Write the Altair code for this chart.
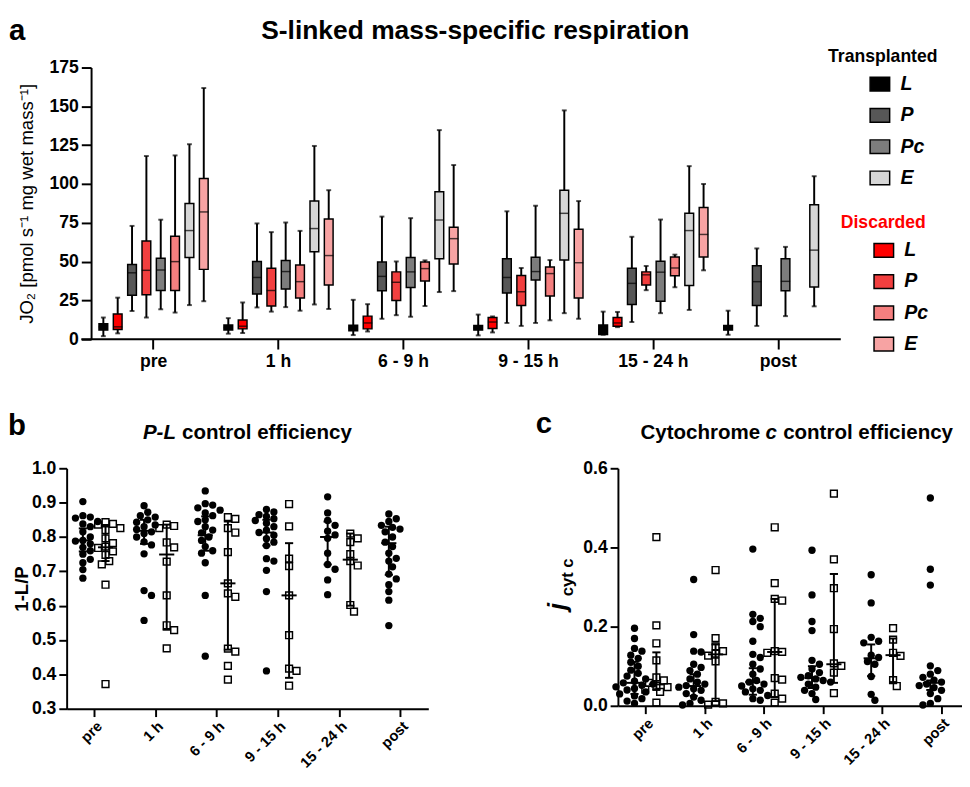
import altair as alt
import pandas as pd

FONT = "Liberation Sans"

groups = ["pre", "1 h", "6 - 9 h", "9 - 15 h", "15 - 24 h", "post"]
measures = ["L", "P", "Pc", "E"]
slot_keys = ["T_L", "D_L", "T_P", "D_P", "T_Pc", "D_Pc", "T_E", "D_E"]
T_colors = ["#000000", "#575757", "#7d7d7d", "#d6d6d6"]
D_colors = ["#ff0000", "#f23f3f", "#f57f7f", "#f7a3a3"]

# ---- panel a: box plots (order of slot_keys) ----
a_min = [
    [2.0, 3.8, 18.2, 14.0, 19.3, 17.2, 22.0, 24.5],
    [3.6, 4.0, 20.5, 17.8, 20.7, 18.4, 22.4, 19.5],
    [2.7, 5.0, 13.2, 15.5, 14.5, 21.4, 30.4, 31.0],
    [2.5, 4.4, 10.5, 8.6, 10.5, 12.2, 16.8, 13.2],
    [2.9, 7.8, 11.1, 31.6, 16.8, 33.5, 18.9, 44.4],
    [2.9, None, 8.6, None, 14.9, None, 21.2, None],
]
a_q1 = [
    [5.9, 6.3, 28.3, 28.7, 31.4, 31.4, 52.6, 45.0],
    [5.9, 6.7, 29.1, 21.4, 32.3, 26.6, 56.4, 35.0],
    [5.5, 6.7, 31.3, 25.0, 33.4, 37.5, 51.8, 48.5],
    [5.9, 6.9, 29.8, 21.8, 38.2, 27.9, 51.0, 26.6],
    [3.1, 8.4, 22.4, 35.0, 24.5, 40.9, 34.6, 53.0],
    [5.9, None, 21.8, None, 31.2, None, 33.7, None],
]
a_med = [
    [8.0, 8.0, 42.8, 44.4, 44.6, 50.0, 70.0, 82.0],
    [7.5, 8.4, 39.8, 31.4, 43.6, 37.1, 71.3, 53.9],
    [7.3, 10.5, 40.5, 36.7, 43.4, 45.5, 76.8, 64.8],
    [7.3, 11.1, 39.8, 30.6, 43.6, 42.3, 81.1, 49.3],
    [6.3, 10.5, 36.0, 41.5, 43.2, 45.9, 70.0, 67.5],
    [7.3, None, 37.1, None, 37.3, None, 57.4, None],
]
a_q3 = [
    [10.0, 16.3, 48.2, 63.3, 52.2, 66.4, 87.4, 103.5],
    [9.2, 12.4, 50.1, 45.7, 50.7, 47.8, 89.0, 77.4],
    [9.0, 14.9, 49.7, 43.4, 52.7, 49.7, 95.0, 72.2],
    [8.8, 14.0, 51.8, 41.1, 52.8, 46.5, 96.0, 70.8],
    [9.2, 14.0, 45.7, 43.4, 50.3, 53.0, 81.1, 84.9],
    [8.8, None, 47.4, None, 51.8, None, 86.6, None],
]
a_max = [
    [14.0, 26.8, 73.0, 118.0, 77.0, 118.4, 125.6, 161.8],
    [13.6, 23.7, 74.6, 69.0, 75.2, 69.8, 124.5, 96.0],
    [25.4, 22.6, 79.0, 50.1, 78.0, 50.8, 134.7, 112.2],
    [15.9, 14.7, 82.4, 45.9, 86.0, 51.0, 147.4, 89.0],
    [17.8, 17.6, 66.0, 47.2, 77.1, 54.5, 111.5, 100.0],
    [18.4, None, 58.5, None, 59.5, None, 105.0, None],
]

# ---- panel b: P-L control efficiency ----
b_T = [
    [0.903, 0.862, 0.858, 0.855, 0.845, 0.838, 0.83, 0.815, 0.80, 0.79, 0.788, 0.78, 0.77, 0.76, 0.75, 0.735, 0.725, 0.705, 0.68],
    [0.891, 0.872, 0.862, 0.858, 0.85, 0.843, 0.835, 0.83, 0.822, 0.815, 0.81, 0.80, 0.786, 0.777, 0.751, 0.644, 0.63, 0.557],
    [0.934, 0.897, 0.893, 0.885, 0.878, 0.87, 0.862, 0.85, 0.845, 0.83, 0.82, 0.812, 0.80, 0.79, 0.772, 0.76, 0.753, 0.725, 0.63, 0.453],
    [0.88, 0.873, 0.865, 0.86, 0.853, 0.848, 0.84, 0.83, 0.82, 0.813, 0.805, 0.795, 0.785, 0.775, 0.737, 0.73, 0.703, 0.641, 0.41],
    [0.917, 0.87, 0.848, 0.834, 0.817, 0.806, 0.796, 0.753, 0.72, 0.706, 0.675, 0.632],
    [0.867, 0.853, 0.845, 0.834, 0.828, 0.823, 0.815, 0.80, 0.785, 0.772, 0.753, 0.738, 0.73, 0.713, 0.692, 0.678, 0.661, 0.641, 0.616, 0.542],
]
b_D = [
    [0.843, 0.838, 0.836, 0.826, 0.82, 0.796, 0.782, 0.772, 0.768, 0.758, 0.748, 0.73, 0.72, 0.661, 0.372],
    [0.836, 0.832, 0.826, 0.784, 0.77, 0.728, 0.63, 0.543, 0.529, 0.476],
    [0.858, 0.853, 0.826, 0.813, 0.756, 0.665, 0.636, 0.626, 0.475, 0.466, 0.425, 0.385],
    [0.896, 0.831, 0.737, 0.715, 0.63, 0.514, 0.417, 0.41, 0.367],
    [0.81, 0.796, 0.785, 0.75, 0.73, 0.717, 0.602, 0.583],
    [],
]
b_T_med = [0.79, 0.818, 0.805, 0.813, 0.80, 0.782]
b_T_q1 = [0.758, 0.78, 0.76, 0.775, 0.72, 0.69]
b_T_q3 = [0.825, 0.85, 0.86, 0.85, 0.845, 0.83]
b_D_med = [0.77, 0.749, 0.665, 0.63, 0.734, None]
b_D_q1 = [0.73, 0.53, 0.472, 0.39, 0.60, None]
b_D_q3 = [0.835, 0.836, 0.845, 0.782, 0.81, None]

# ---- panel c: cytochrome c control efficiency ----
c_T = [
    [0.196, 0.17, 0.145, 0.138, 0.128, 0.12, 0.11, 0.1, 0.09, 0.082, 0.075, 0.068, 0.062, 0.058, 0.055, 0.052, 0.048, 0.044, 0.04, 0.035, 0.03, 0.025, 0.018, 0.012, 0.006],
    [0.319, 0.18, 0.138, 0.136, 0.105, 0.097, 0.089, 0.08, 0.068, 0.06, 0.055, 0.051, 0.047, 0.043, 0.039, 0.031, 0.022, 0.014, 0.006, 0.002],
    [0.396, 0.231, 0.221, 0.213, 0.2, 0.163, 0.13, 0.122, 0.105, 0.093, 0.08, 0.064, 0.06, 0.055, 0.05, 0.043, 0.039, 0.035, 0.026, 0.018, 0.014],
    [0.393, 0.28, 0.213, 0.19, 0.115, 0.105, 0.093, 0.084, 0.076, 0.072, 0.068, 0.064, 0.06, 0.055, 0.047, 0.039, 0.031, 0.016],
    [0.331, 0.26, 0.173, 0.163, 0.159, 0.128, 0.122, 0.112, 0.105, 0.074, 0.029, 0.014],
    [0.525, 0.345, 0.305, 0.101, 0.089, 0.08, 0.072, 0.065, 0.06, 0.055, 0.051, 0.046, 0.039, 0.031, 0.018, 0.006, 0.002],
]
c_D = [
    [0.426, 0.203, 0.158, 0.115, 0.072, 0.064, 0.058, 0.051, 0.047, 0.041, 0.035, 0.008],
    [0.343, 0.171, 0.15, 0.138, 0.132, 0.127, 0.112, 0.01, 0.006, 0.003],
    [0.451, 0.31, 0.27, 0.266, 0.138, 0.136, 0.134, 0.07, 0.066, 0.031, 0.018, 0.008],
    [0.536, 0.37, 0.297, 0.194, 0.107, 0.101, 0.084, 0.032],
    [0.196, 0.167, 0.134, 0.126, 0.065, 0.05],
    [],
]
c_T_med = [0.058, 0.05, 0.06, 0.07, 0.12, 0.058]
c_T_q1 = [0.03, 0.025, 0.028, 0.045, 0.075, 0.04]
c_T_q3 = [0.111, 0.08, 0.095, 0.10, 0.155, 0.064]
c_D_med = [0.054, 0.13, 0.136, 0.105, 0.128, None]
c_D_q1 = [0.04, 0.012, 0.022, 0.058, 0.06, None]
c_D_q3 = [0.135, 0.155, 0.27, 0.333, 0.17, None]

# ================= build tables =================
rows = []
for gi, g in enumerate(groups):
    for si, k in enumerate(slot_keys):
        if a_med[gi][si] is None:
            continue
        coh, m = k.split("_")
        rows.append(dict(group=g, key=k, cohort=coh, measure=m,
                         lo=a_min[gi][si], q1=a_q1[gi][si], med=a_med[gi][si],
                         q3=a_q3[gi][si], hi=a_max[gi][si]))
dfa = pd.DataFrame(rows)


def swarm(vals, ppu, d=7.6):
    """simple beeswarm: horizontal pixel offsets so markers do not overlap"""
    order = sorted(range(len(vals)), key=lambda i: -vals[i])
    cands = [0.0]
    for k in range(1, 15):
        cands += [k * d * 0.5, -k * d * 0.5]
    placed, offs = [], [0.0] * len(vals)
    for i in order:
        yi = vals[i] * ppu
        for c in cands:
            if all((c - ox) ** 2 + (yi - oy) ** 2 >= (d * 0.92) ** 2 for ox, oy in placed):
                offs[i] = c
                placed.append((c, yi))
                break
    return offs


SIDE = 0.185


def scatter_table(T, D, ppu_y, ppu_x):
    out = []
    for gi, g in enumerate(groups):
        for side, vals in (("T", T[gi]), ("D", D[gi])):
            sgn = -1 if side == "T" else 1
            offs = swarm(vals, ppu_y)
            for v, o in zip(vals, offs):
                out.append(dict(group=g, side=side, value=v, xpos=gi + sgn * SIDE + o / ppu_x))
    return pd.DataFrame(out)


def summary_table(tm, tq1, tq3, dm, dq1, dq3):
    out = []
    for gi, g in enumerate(groups):
        for side, m, a, b in (("T", tm[gi], tq1[gi], tq3[gi]), ("D", dm[gi], dq1[gi], dq3[gi])):
            if m is None:
                continue
            sgn = -1 if side == "T" else 1
            out.append(dict(group=g, side=side, med=m, q1=a, q3=b, xpos=gi + sgn * SIDE))
    return pd.DataFrame(out)


def text_mark(txt, x, y, size, weight="bold", style="normal", align="left", angle=0,
              color="black", baseline="top"):
    return alt.Chart(pd.DataFrame({"t": [txt]})).mark_text(
        font=FONT, fontSize=size, fontWeight=weight, fontStyle=style, align=align,
        baseline=baseline, color=color, angle=angle
    ).encode(text="t:N", x=alt.value(x), y=alt.value(y))


# ================= panel a =================
WA, HA = 767, 278
xa_scale = alt.Scale(domain=groups, paddingInner=0, paddingOuter=0)
xa_axis = alt.Axis(title=None, labelAngle=0, labelFontSize=18, tickSize=10, labelPadding=4, domain=False)
xo_scale = alt.Scale(domain=slot_keys, paddingInner=0.39, paddingOuter=0.55)
ya_scale = alt.Scale(domain=[0, 175], nice=False, zero=True)
ya_axis = alt.Axis(values=list(range(0, 176, 25)), title="JO₂ [pmol s⁻¹ mg wet mass⁻¹]",
                   titleFontWeight="normal", titleFontSize=19, tickSize=10, labelFontSize=18,
                   titlePadding=13, labelPadding=3)


def XA():
    return alt.X("group:N", sort=groups, scale=xa_scale, axis=xa_axis)


def XO():
    return alt.XOffset("key:N", sort=slot_keys, scale=xo_scale)


def YA(f):
    return alt.Y(f, type="quantitative", scale=ya_scale, axis=ya_axis)


def legend(title, color, lx, ly, soff):
    return alt.Legend(title=title, orient="none", legendX=lx, legendY=ly, titleColor=color,
                      titleFontSize=18, titleFontWeight="bold", titleFont=FONT,
                      labelFontSize=20, labelFontStyle="italic", labelFontWeight="bold",
                      labelFont=FONT, labelColor="black",
                      symbolType="M-1,-0.7H1V0.7H-1Z", symbolSize=400,
                      symbolStrokeColor="black", symbolStrokeWidth=1.5,
                      rowPadding=11, titlePadding=8, symbolOffset=soff, labelOffset=10,
                      padding=0)


base = alt.Chart(dfa)
x_line = alt.Chart(pd.DataFrame({"t": [0]})).mark_rule(color="black", strokeWidth=2).encode(
    x=alt.value(-10), x2=alt.value(WA), y=alt.value(HA))
whisk = base.mark_rule(color="black", strokeWidth=2).encode(x=XA(), xOffset=XO(), y=YA("lo"), y2="hi:Q")
cap_lo = base.mark_tick(color="black", size=5, thickness=2).encode(x=XA(), xOffset=XO(), y=YA("lo"))
cap_hi = base.mark_tick(color="black", size=5, thickness=2).encode(x=XA(), xOffset=XO(), y=YA("hi"))
box_T = base.transform_filter("datum.cohort == 'T'").mark_bar(stroke="black", strokeWidth=1.5).encode(
    x=XA(), xOffset=XO(), y=YA("q1"), y2="q3:Q",
    color=alt.Color("measure:N", scale=alt.Scale(domain=measures, range=T_colors),
                    legend=legend("Transplanted", "black", 754, -20, 42)))
box_D = base.transform_filter("datum.cohort == 'D'").mark_bar(stroke="black", strokeWidth=1.5).encode(
    x=XA(), xOffset=XO(), y=YA("q1"), y2="q3:Q",
    color=alt.Color("measure:N", scale=alt.Scale(domain=measures, range=D_colors),
                    legend=legend("Discarded", "#ff0000", 767, 150, 33)))
med_a = base.mark_tick(color="black", size=9.5, thickness=1.5).encode(x=XA(), xOffset=XO(), y=YA("med"))
letter_a = text_mark("a", -84, -52, 30)
title_a = text_mark("S-linked mass-specific respiration", 393, -50, 27, align="center")

panel_a = alt.layer(x_line, whisk, cap_lo, cap_hi, box_T, box_D, med_a, letter_a, title_a).resolve_scale(
    color="independent"
).properties(width=WA, height=HA)


# ================= panels b and c =================
label_expr = "[" + ",".join("'" + g + "'" for g in groups) + "][datum.value]"


def scatter_panel(T, D, summ, xdom, ydom, yvals, ytitle, W, H, extra, shift=0, tpad=8):
    # shift: the y axis is drawn this many pixels left of the panel origin
    ppu_y = H / (ydom[1] - ydom[0])
    ppu_x = (W + shift) / (xdom[1] - xdom[0])
    dfp = scatter_table(T, D, ppu_y, ppu_x)
    xs = alt.Scale(domain=xdom, nice=False, zero=False, range=[-shift, W])
    xax = alt.Axis(values=list(range(len(groups))), labelExpr=label_expr, labelAngle=-45, title=None,
                   grid=False, tickSize=8, labelFontSize=15, labelPadding=2)
    ys = alt.Scale(domain=ydom, nice=False, zero=False)
    yax = alt.Axis(values=yvals, format=".1f", title=ytitle, titleFontSize=19, titleFontWeight="bold",
                   tickSize=8, labelFontSize=18, titlePadding=tpad, labelPadding=3, offset=shift)

    def X():
        return alt.X("xpos:Q", scale=xs, axis=xax)

    def Y(f):
        return alt.Y(f, type="quantitative", scale=ys, axis=yax)

    pts = alt.Chart(dfp)
    circ = pts.transform_filter("datum.side == 'T'").mark_point(
        shape="circle", filled=True, color="black", size=56, opacity=1).encode(x=X(), y=Y("value"))
    sq = pts.transform_filter("datum.side == 'D'").mark_point(
        shape="square", filled=False, color="black", size=48, strokeWidth=1.5, opacity=1).encode(x=X(), y=Y("value"))
    sb = alt.Chart(summ)
    rule = sb.mark_rule(color="black", strokeWidth=2).encode(x=X(), y=Y("q1"), y2="q3:Q")
    medp = sb.mark_point(shape="stroke", size=240, color="black", strokeWidth=2, opacity=1).encode(x=X(), y=Y("med"))
    capl = sb.mark_point(shape="stroke", size=70, color="black", strokeWidth=2, opacity=1).encode(x=X(), y=Y("q1"))
    caph = sb.mark_point(shape="stroke", size=70, color="black", strokeWidth=2, opacity=1).encode(x=X(), y=Y("q3"))
    return alt.layer(circ, sq, rule, medp, capl, caph, *extra).properties(width=W, height=H)


sum_b = summary_table(b_T_med, b_T_q1, b_T_q3, b_D_med, b_D_q1, b_D_q3)
sum_c = summary_table(c_T_med, c_T_q1, c_T_q3, c_D_med, c_D_q1, c_D_q3)

SH = 25                      # panel b's axis sits 25 px left of panel a's axis
WB, HB = 370 - SH, 246
WC, HC = 352, 243
panel_b = scatter_panel(b_T, b_D, sum_b, [-0.45, 5.46], [0.3, 1.0],
                        [0.3, 0.4, 0.5, 0.6, 0.7, 0.8, 0.9, 1.0], "1-L/P", WB, HB,
                        [text_mark("b", -85, -58, 30),
                         text_mark("P-L", 78 - SH, -47, 21, style="italic"),
                         text_mark("control efficiency", 118 - SH, -47, 21)],
                        shift=SH, tpad=0)
panel_c = scatter_panel(c_T, c_D, sum_c, [-0.465, 5.35], [0.0, 0.6],
                        [0.0, 0.2, 0.4, 0.6], None, WC, HC,
                        [text_mark("c", -84, -60, 30),
                         text_mark("Cytochrome", 23, -47, 21),
                         text_mark("c", 151, -47, 21, style="italic"),
                         text_mark("control efficiency", 169, -47, 21),
                         text_mark("j", -53, 145, 26, style="italic", angle=270, baseline="alphabetic"),
                         text_mark("cyt c", -46, 131, 17, angle=270, baseline="alphabetic")])

row2 = alt.hconcat(panel_b, panel_c, spacing=85)

chart = alt.concat(panel_a, row2, columns=1, spacing=40).properties(
    padding=0
).configure(font=FONT).configure_view(stroke=None).configure_axis(
    domainColor="black", domainWidth=2, tickColor="black", tickWidth=2,
    labelColor="black", titleColor="black", labelFontWeight="bold",
    labelFont=FONT, titleFont=FONT, grid=False
)

chart.save("out.html", embed_options={"renderer": "svg", "actions": False})
